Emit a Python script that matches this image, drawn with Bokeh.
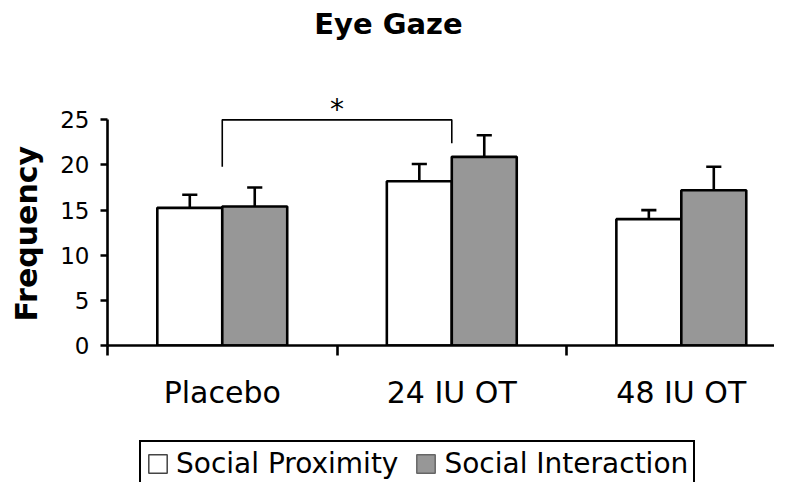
from bokeh.plotting import figure
from bokeh.layouts import column
from bokeh.models import (Range1d, FixedTicker, Legend, LegendItem, Label,
                          ColumnDataSource)
from bokeh.core.properties import value
from bokeh.embed import file_html
from bokeh.resources import INLINE

# ---------------- data ----------------
categories = ["Placebo", "24 IU OT", "48 IU OT"]
proximity = [15.25, 18.2, 14.0]
proximity_err = [1.45, 1.9, 1.0]
interaction = [15.4, 20.9, 17.2]
interaction_err = [2.1, 2.4, 2.6]
y_ticks = [0, 5, 10, 15, 20, 25]
series_names = ["Social Proximity", "Social Interaction"]
# significance bracket: Placebo vs 24 IU OT
bracket_pair = [0, 1]
bracket_top = 25
bracket_drops = [19.8, 22.4]
bracket_mark = "*"
title_text = "Eye Gaze"
y_label = "Frequency"

# ---------------- style ----------------
FONT = "DejaVu Sans"
GREY = "#979797"
BAR_W = 0.283
LW = 2.6
CAP = 0.033
W = 774
H_TITLE = 90
H_MAIN = 350
H_LEG = 42
LEFT = 107
X_END = 2.906

centers = [i + 0.5 for i in range(len(categories))]

# ---------------- title strip ----------------
t = figure(width=W, height=H_TITLE, output_backend="svg", toolbar_location=None,
           title=None, x_axis_location=None, y_axis_location=None,
           x_range=Range1d(0, X_END), y_range=Range1d(0, H_TITLE),
           min_border_left=LEFT, min_border_right=0, min_border_top=0,
           min_border_bottom=0)
t.grid.visible = False
t.outline_line_color = None
t.add_layout(Label(x=1.224, y=67, text=title_text, text_font=FONT,
                   text_font_size="29px", text_font_style="bold",
                   text_align="center", text_baseline="alphabetic",
                   text_color="black"))

# ---------------- main chart ----------------
p = figure(width=W, height=H_MAIN, output_backend="svg", toolbar_location=None,
           title=None, x_range=Range1d(0, X_END), y_range=Range1d(0, 28.25),
           min_border_left=LEFT, min_border_right=0, min_border_top=0,
           min_border_bottom=95)
p.outline_line_color = None
p.xgrid.visible = False
p.ygrid.visible = False
p.background_fill_color = "white"
p.border_fill_color = "white"

src_p = ColumnDataSource(dict(x=[c - BAR_W / 2 for c in centers], top=proximity,
                              etop=[v + e for v, e in zip(proximity, proximity_err)]))
src_i = ColumnDataSource(dict(x=[c + BAR_W / 2 for c in centers], top=interaction,
                              etop=[v + e for v, e in zip(interaction, interaction_err)]))

for src, fill in ((src_p, "white"), (src_i, GREY)):
    # error bar stems and caps (upper only)
    p.segment(x0="x", y0="top", x1="x", y1="etop", source=src,
              line_color="black", line_width=LW)
    d = src.data
    p.segment(x0=[x - CAP for x in d["x"]], y0=d["etop"],
              x1=[x + CAP for x in d["x"]], y1=d["etop"],
              line_color="black", line_width=LW)
    p.vbar(x="x", top="top", width=BAR_W, bottom=0, source=src,
           fill_color=fill, line_color="black", line_width=LW)

# significance bracket
bx0, bx1 = centers[bracket_pair[0]], centers[bracket_pair[1]]
p.line(x=[bx0, bx0, bx1, bx1], y=[bracket_drops[0], bracket_top, bracket_top, bracket_drops[1]],
       line_color="black", line_width=1.6)
p.text(x=[(bx0 + bx1) / 2], y=[bracket_top + 1.2], text=[bracket_mark],
       text_font=value(FONT), text_font_size="28px", text_align="center",
       text_baseline="alphabetic", text_color="black")

yax = p.yaxis[0]
yax.ticker = FixedTicker(ticks=y_ticks, minor_ticks=[])
yax.bounds = (0, 25)
yax.axis_line_width = LW
yax.axis_line_color = "black"
yax.major_tick_line_width = LW
yax.major_tick_line_color = "black"
yax.major_tick_out = 7
yax.major_tick_in = 0
yax.minor_tick_line_color = None
yax.major_label_text_font = FONT
yax.major_label_text_font_size = "23px"
yax.major_label_text_color = "black"
yax.major_label_standoff = 11
# trailing no-break spaces centre the word on the 0-25 span of the axis
yax.axis_label = y_label + "\u00a0\u00a0\u00a0"
yax.axis_label_text_font = FONT
yax.axis_label_text_font_size = "30px"
yax.axis_label_text_font_style = "bold"
yax.axis_label_text_color = "black"
yax.axis_label_standoff = 13

xax = p.xaxis[0]
xax.ticker = FixedTicker(ticks=centers, minor_ticks=list(range(len(categories) + 1)))
xax.major_label_overrides = {c: name for c, name in zip(centers, categories)}
xax.axis_line_width = LW
xax.axis_line_color = "black"
xax.major_tick_out = 0
xax.major_tick_in = 0
xax.major_tick_line_color = None
xax.minor_tick_out = 10
xax.minor_tick_in = 0
xax.minor_tick_line_width = LW
xax.minor_tick_line_color = "black"
xax.major_label_text_font = FONT
xax.major_label_text_font_size = "30px"
xax.major_label_text_color = "black"
xax.major_label_standoff = 19

# ---------------- legend strip ----------------
q = figure(width=W, height=H_LEG, output_backend="svg", toolbar_location=None,
           title=None, x_axis_location=None, y_axis_location=None,
           x_range=Range1d(0, 1), y_range=Range1d(0, 1),
           min_border_left=LEFT, min_border_right=0, min_border_top=0,
           min_border_bottom=0)
q.grid.visible = False
q.outline_line_color = None
q.border_fill_color = "white"
q.background_fill_color = "white"
# tiny swatch renderers hidden behind the opaque legend box; only their legend glyphs show
r_lp = q.vbar(x=[0.5], top=[0.3], bottom=[0.29], width=0.001, fill_color="white",
              line_color="#444444", line_width=1.5)
r_li = q.vbar(x=[0.5], top=[0.3], bottom=[0.29], width=0.001, fill_color=GREY,
              line_color="#666666", line_width=1.5)
legend = Legend(items=[LegendItem(label=series_names[0], renderers=[r_lp]),
                       LegendItem(label=series_names[1], renderers=[r_li])],
                location=(32, -5), orientation="horizontal",
                label_text_font=FONT, label_text_font_size="28px",
                label_text_color="black", label_standoff=7, label_height=30,
                glyph_width=23, glyph_height=23, spacing=16, padding=5,
                margin=0, border_line_color="black", border_line_width=2,
                border_line_alpha=1.0,
                background_fill_color="white", background_fill_alpha=1.0)
q.add_layout(legend, "center")

layout = column(t, p, q, spacing=0)
open("out.html", "w").write(file_html(layout, INLINE))
